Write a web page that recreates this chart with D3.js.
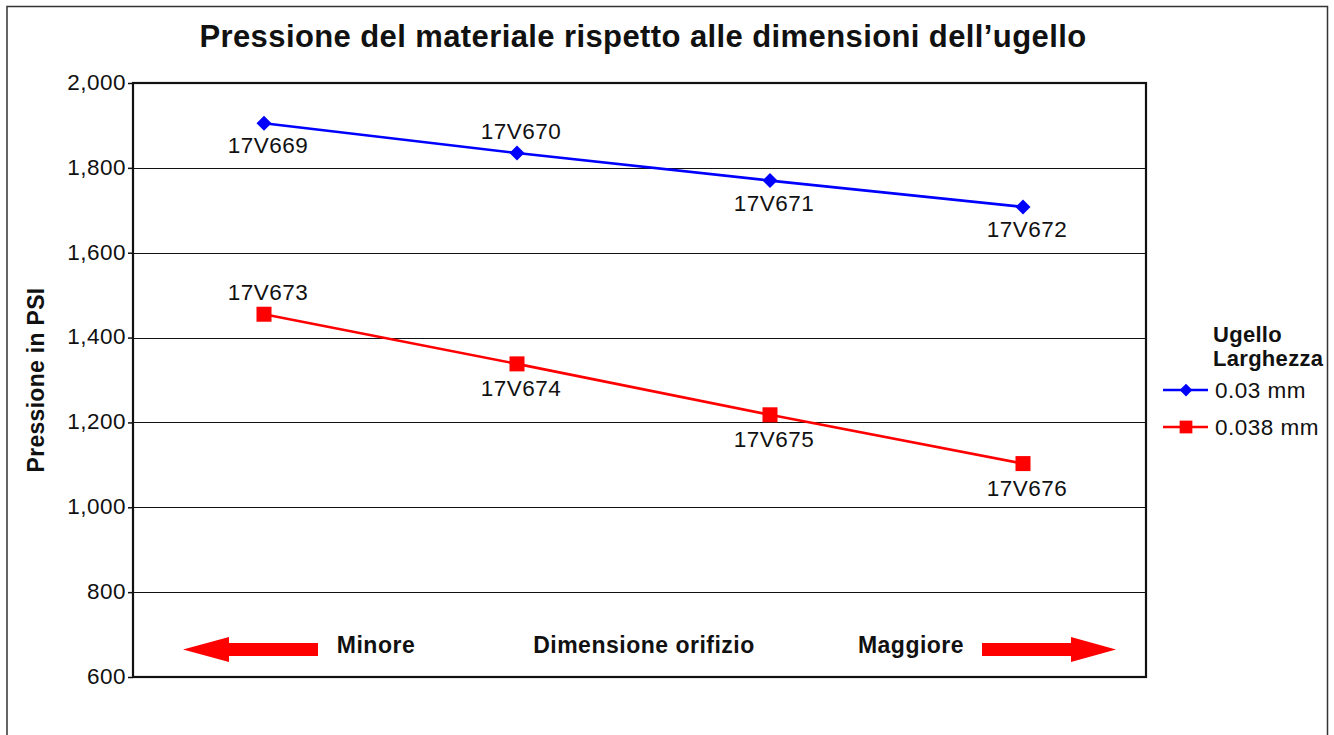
<!DOCTYPE html>
<html>
<head>
<meta charset="utf-8">
<script src="https://cdn.jsdelivr.net/npm/d3@7/dist/d3.min.js"></script>
<style>
  html, body { margin: 0; padding: 0; background: #fff; }
  svg { display: block; }
  text { font-family: "Liberation Sans", Helvetica, Arial, sans-serif; fill: #111; }
</style>
</head>
<body>
<svg id="chart" width="1334" height="735"></svg>
<script>
// Nozzle sizes, from smallest to largest orifice
const categories = ["1", "2", "3", "4"];
const seriesNames = ["0.03 mm", "0.038 mm"];
const nozzleNarrow = [1905, 1835, 1770, 1708];
const nozzleWide = [1455, 1338, 1218, 1103];
const partsNarrow = ["17V669", "17V670", "17V671", "17V672"];
const partsWide = ["17V673", "17V674", "17V675", "17V676"];
const labelSideNarrow = ["below", "above", "below", "below"];
const labelSideWide = ["above", "below", "below", "below"];
const yTicks = [600, 800, 1000, 1200, 1400, 1600, 1800, 2000];

const svg = d3.select("#chart");
const plot = { left: 133, top: 83, right: 1146, bottom: 677 };

// Outer frame (open at the bottom edge of the page)
svg.append("path")
  .attr("d", "M7,740 V6.5 H1327.5 V740")
  .attr("fill", "none").attr("stroke", "#333").attr("stroke-width", 1.5);

const x = d3.scalePoint().domain(categories)
  .range([plot.left + 131, plot.right - 123]);
const y = d3.scaleLinear().domain([600, 2000]).range([plot.bottom, plot.top]);

// Horizontal gridlines
svg.append("g").selectAll("line")
  .data(yTicks.filter(v => v > 600 && v < 2000))
  .join("line")
  .attr("x1", plot.left).attr("x2", plot.right)
  .attr("y1", d => Math.round(y(d)) + 0.5).attr("y2", d => Math.round(y(d)) + 0.5)
  .attr("stroke", "#111").attr("stroke-width", 1.2);

// Y axis with comma-formatted labels
const yAxis = svg.append("g")
  .attr("transform", `translate(${plot.left},0)`)
  .call(d3.axisLeft(y).tickValues(yTicks).tickFormat(d3.format(",")).tickSize(5).tickPadding(2));
yAxis.select(".domain").remove();
yAxis.selectAll(".tick line").attr("stroke", "#111").attr("stroke-width", 1.5);
yAxis.selectAll(".tick text").attr("font-size", 22.5).attr("fill", "#111")
  .attr("letter-spacing", 0.5).attr("dy", "0.28em")
  .attr("font-family", "'Liberation Sans', Helvetica, Arial, sans-serif");

// Plot frame
svg.append("rect")
  .attr("x", plot.left).attr("y", plot.top)
  .attr("width", plot.right - plot.left).attr("height", plot.bottom - plot.top)
  .attr("fill", "none").attr("stroke", "#111").attr("stroke-width", 2.2);

// Title
svg.append("text")
  .attr("x", 643).attr("y", 47).attr("text-anchor", "middle")
  .attr("font-size", 31).attr("font-weight", "bold").attr("letter-spacing", 0.4)
  .text("Pressione del materiale rispetto alle dimensioni dell’ugello");

// Y axis title
svg.append("text")
  .attr("transform", "translate(44,380) rotate(-90)")
  .attr("text-anchor", "middle")
  .attr("font-size", 23).attr("font-weight", "bold").attr("letter-spacing", 0.3)
  .text("Pressione in PSI");

// Orifice-size direction arrows
const arrowY = y(665);
function arrow(tipX, baseX, endX) {
  return `M${tipX},${arrowY} L${baseX},${arrowY - 12.5} L${baseX},${arrowY - 6.5} L${endX},${arrowY - 6.5}` +
         ` L${endX},${arrowY + 6.5} L${baseX},${arrowY + 6.5} L${baseX},${arrowY + 12.5} Z`;
}
svg.append("path").attr("d", arrow(183, 229, 318)).attr("fill", "#ff0000");
svg.append("path").attr("d", arrow(1116, 1071, 982)).attr("fill", "#ff0000");
const dirLabels = [
  { t: "Minore", x: 376 },
  { t: "Dimensione orifizio", x: 644 },
  { t: "Maggiore", x: 911 }
];
svg.append("g").selectAll("text").data(dirLabels).join("text")
  .attr("x", d => d.x).attr("y", arrowY + 1).attr("dy", "0.1em")
  .attr("text-anchor", "middle").attr("font-size", 23).attr("font-weight", "bold")
  .attr("letter-spacing", 0.5)
  .text(d => d.t);

// Series
const series = [
  { name: seriesNames[0], values: nozzleNarrow, parts: partsNarrow, sides: labelSideNarrow, color: "#0000ff", marker: "diamond" },
  { name: seriesNames[1], values: nozzleWide, parts: partsWide, sides: labelSideWide, color: "#ff0000", marker: "square" }
];

function drawMarker(g, type, color, cx, cy, scale) {
  if (type === "diamond") {
    const r = 7.5 * scale;
    g.append("path")
      .attr("d", `M${cx},${cy - r} L${cx + r},${cy} L${cx},${cy + r} L${cx - r},${cy} Z`)
      .attr("fill", color);
  } else {
    const s = 15 * scale;
    g.append("rect").attr("x", cx - s / 2).attr("y", cy - s / 2)
      .attr("width", s).attr("height", s).attr("fill", color);
  }
}

const line = d3.line().x((d, i) => x(categories[i])).y(d => y(d));

series.forEach(s => {
  const g = svg.append("g");
  g.append("path").datum(s.values)
    .attr("d", line).attr("fill", "none")
    .attr("stroke", s.color).attr("stroke-width", 2.6);
  s.values.forEach((v, i) => drawMarker(g, s.marker, s.color, x(categories[i]), y(v), 1));
  g.selectAll("text.pt").data(s.values).join("text")
    .attr("class", "pt")
    .attr("x", (d, i) => x(categories[i]) + 4)
    .attr("y", (d, i) => y(d) + (s.sides[i] === "above" ? -14 : (s.marker === "square" ? 32 : 30)))
    .attr("text-anchor", "middle").attr("font-size", 22.5).attr("letter-spacing", 0.5)
    .text((d, i) => s.parts[i]);
});

// Legend
const legend = svg.append("g");
legend.append("text").attr("x", 1213).attr("y", 342)
  .attr("font-size", 22).attr("font-weight", "bold").attr("letter-spacing", 0.3).text("Ugello");
legend.append("text").attr("x", 1213).attr("y", 366)
  .attr("font-size", 22).attr("font-weight", "bold").attr("letter-spacing", 0.3).text("Larghezza");
series.forEach((s, i) => {
  const ly = 390 + i * 37;
  legend.append("line").attr("x1", 1163).attr("x2", 1208)
    .attr("y1", ly).attr("y2", ly).attr("stroke", s.color).attr("stroke-width", 2.6);
  drawMarker(legend, s.marker, s.color, 1186, ly, 0.85);
  legend.append("text").attr("x", 1215).attr("y", ly).attr("dy", "0.35em")
    .attr("font-size", 22.5).attr("letter-spacing", 0.5).text(s.name);
});
</script>
</body>
</html>
